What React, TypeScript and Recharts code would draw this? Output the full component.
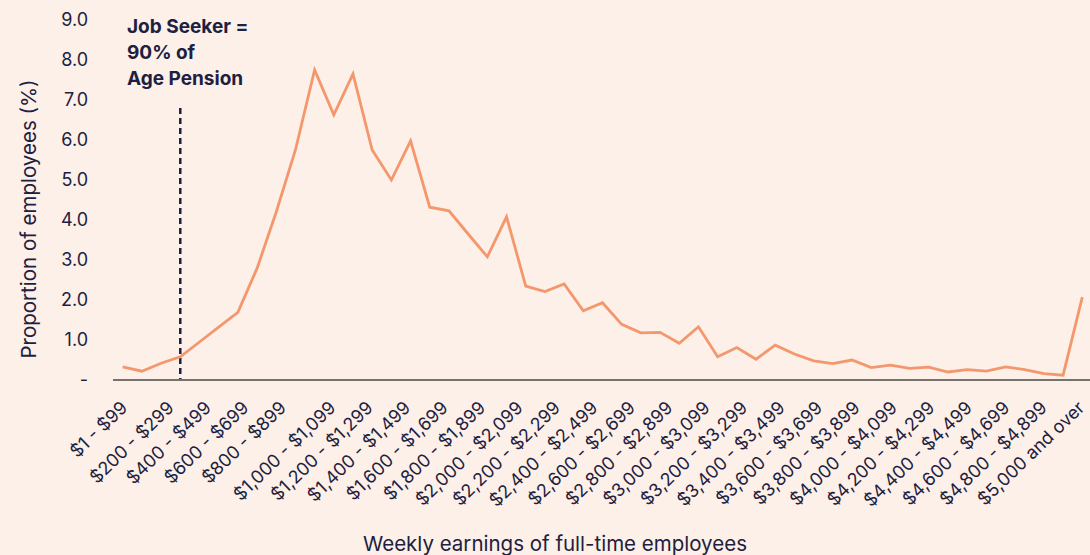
// @ts-nocheck
import { LineChart, Line, XAxis, YAxis, ReferenceLine } from "recharts"

const EARNINGS_BANDS = [
  "$1 - $99", "$100 - $199", "$200 - $299", "$300 - $399", "$400 - $499",
  "$500 - $599", "$600 - $699", "$700 - $799", "$800 - $899", "$900 - $999",
  "$1,000 - $1,099", "$1,100 - $1,199", "$1,200 - $1,299", "$1,300 - $1,399", "$1,400 - $1,499",
  "$1,500 - $1,599", "$1,600 - $1,699", "$1,700 - $1,799", "$1,800 - $1,899", "$1,900 - $1,999",
  "$2,000 - $2,099", "$2,100 - $2,199", "$2,200 - $2,299", "$2,300 - $2,399", "$2,400 - $2,499",
  "$2,500 - $2,599", "$2,600 - $2,699", "$2,700 - $2,799", "$2,800 - $2,899", "$2,900 - $2,999",
  "$3,000 - $3,099", "$3,100 - $3,199", "$3,200 - $3,299", "$3,300 - $3,399", "$3,400 - $3,499",
  "$3,500 - $3,599", "$3,600 - $3,699", "$3,700 - $3,799", "$3,800 - $3,899", "$3,900 - $3,999",
  "$4,000 - $4,099", "$4,100 - $4,199", "$4,200 - $4,299", "$4,300 - $4,399", "$4,400 - $4,499",
  "$4,500 - $4,599", "$4,600 - $4,699", "$4,700 - $4,799", "$4,800 - $4,899", "$4,900 - $4,999",
  "$5,000 and over",
]

// proportion of full-time employees in each weekly earnings band (%)
const EMPLOYEE_SHARE = [
  0.33, 0.22, 0.42, 0.58, 0.95, 1.32, 1.69, 2.79, 4.2, 5.75,
  7.75, 6.63, 7.65, 5.75, 5.0, 5.98, 4.32, 4.23, 3.65, 3.08,
  4.08, 2.35, 2.21, 2.4, 1.73, 1.93, 1.39, 1.18, 1.19, 0.92,
  1.33, 0.58, 0.81, 0.52, 0.87, 0.65, 0.48, 0.41, 0.5, 0.31,
  0.37, 0.29, 0.32, 0.2, 0.26, 0.22, 0.33, 0.26, 0.16, 0.12,
  2.07,
]

const Y_TICKS = [0, 1, 2, 3, 4, 5, 6, 7, 8, 9]

const JOB_SEEKER_BAND = "$300 - $399"
const JOB_SEEKER_LINE_TOP = 6.8

const BG = "#fcf0e8"
const NAVY = "#1d2040"
const LINE_COLOUR = "#f4976d"
const FONT = "Inter, 'Noto Sans', sans-serif"

const chartData = EARNINGS_BANDS.map((band, i) => ({
  band,
  share: EMPLOYEE_SHARE[i],
}))

function EarningsTick({ x, y, payload }) {
  const label = String(payload.value)
  // labels in the source run on a slightly tighter pitch than the line points
  const ex = x * 0.9755 - 15.2 + label.length * 3
  const ey = y + 29
  return (
    <text
      x={ex}
      y={ey}
      textAnchor="end"
      transform={`rotate(-44, ${ex}, ${ey})`}
      fill={NAVY}
      fontSize={18}
      fontFamily={FONT}
    >
      {label}
    </text>
  )
}

export default function App() {
  return (
    <div
      style={{
        position: "absolute",
        left: 0,
        top: 0,
        width: 1090,
        height: 555,
        background: BG,
        overflow: "hidden",
        fontFamily: FONT,
        color: NAVY,
      }}
    >
      <LineChart
        width={1090}
        height={555}
        data={chartData}
        margin={{ top: 20, right: 0, left: 0, bottom: 0 }}
      >
        <XAxis
          dataKey="band"
          type="category"
          interval={1}
          height={175}
          padding={{ left: 9.7, right: 7.7 }}
          axisLine={{ stroke: "#77716b", strokeWidth: 2 }}
          tickLine={false}
          tickSize={0}
          tickMargin={0}
          tick={<EarningsTick />}
        />
        <YAxis
          domain={[0, 9]}
          ticks={Y_TICKS}
          width={113}
          axisLine={false}
          tickLine={false}
          tickSize={0}
          tickMargin={25}
          tickFormatter={(v) => (v === 0 ? "-" : v.toFixed(1))}
          tick={{ fill: NAVY, fontSize: 18, fontFamily: FONT }}
        />
        <ReferenceLine
          segment={[
            { x: JOB_SEEKER_BAND, y: JOB_SEEKER_LINE_TOP },
            { x: JOB_SEEKER_BAND, y: 0 },
          ]}
          stroke={NAVY}
          strokeWidth={2.5}
          strokeDasharray="6 4"
        />
        <Line
          type="linear"
          dataKey="share"
          stroke={LINE_COLOUR}
          strokeWidth={2.8}
          dot={false}
          activeDot={false}
          isAnimationActive={false}
        />
      </LineChart>

      {/* annotation for the dashed marker */}
      <div
        style={{
          position: "absolute",
          left: 127,
          top: 13.5,
          fontSize: 19,
          lineHeight: "26px",
          fontWeight: 700,
          whiteSpace: "nowrap",
        }}
      >
        Job Seeker =
        <br />
        90% of
        <br />
        Age Pension
      </div>

      {/* axis titles */}
      <div
        style={{
          position: "absolute",
          left: 28,
          top: 219,
          fontSize: 20.5,
          whiteSpace: "nowrap",
          transform: "translate(-50%, -50%) rotate(-90deg)",
        }}
      >
        Proportion of employees (%)
      </div>
      <div
        style={{
          position: "absolute",
          left: 555,
          top: 543,
          fontSize: 20.5,
          whiteSpace: "nowrap",
          transform: "translate(-50%, -50%)",
        }}
      >
        Weekly earnings of full-time employees
      </div>
    </div>
  )
}
